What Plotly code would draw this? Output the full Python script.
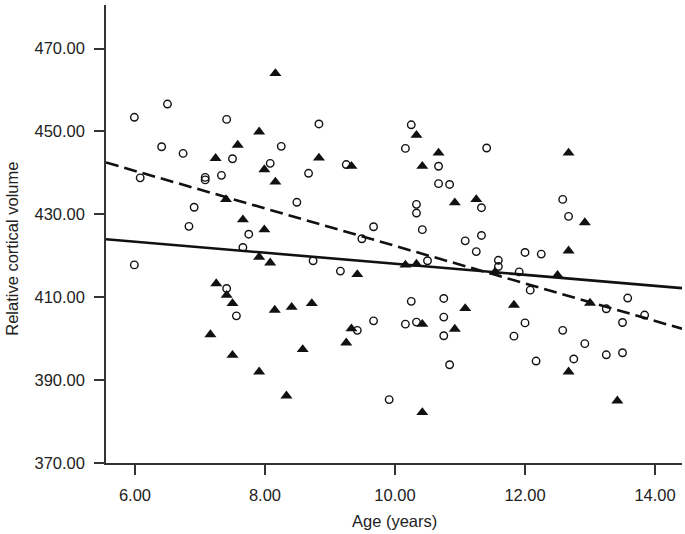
import plotly.graph_objects as go

# Open circles group
circle_age = [5.99, 6.50, 6.41, 6.74, 6.08, 7.08, 7.08, 7.33, 6.91, 6.83, 7.41, 7.50,
              5.99, 7.41, 7.56, 8.25, 8.08, 8.49, 7.75, 7.66, 8.83, 8.67, 9.25, 10.25,
              10.16, 10.67, 10.67, 10.84, 11.41, 10.33, 10.33, 10.42, 9.67, 9.49, 11.33,
              11.33, 11.08, 11.25, 8.74, 9.16, 10.50, 9.42, 9.67, 10.25, 10.16, 10.33,
              10.75, 10.75, 10.75, 10.84, 9.91, 12.58, 12.67, 12.00, 12.25, 11.59, 11.59,
              11.91, 12.08, 12.00, 11.83, 12.58, 12.17, 12.75, 12.92, 13.25, 13.58, 13.50,
              13.84, 13.25, 13.50]
circle_vol = [453.4, 456.6, 446.3, 444.7, 438.8, 438.9, 438.3, 439.4, 431.7, 427.1, 452.9, 443.4,
              417.8, 412.1, 405.5, 446.4, 442.3, 432.9, 425.2, 422.0, 451.8, 439.9, 442.0, 451.6,
              445.9, 441.6, 437.4, 437.2, 446.0, 432.4, 430.3, 426.3, 427.0, 424.1, 431.6,
              424.9, 423.6, 421.0, 418.8, 416.3, 418.8, 402.0, 404.3, 409.0, 403.5, 404.0,
              409.7, 405.2, 400.7, 393.7, 385.3, 433.6, 429.5, 420.8, 420.4, 418.9, 417.4,
              416.1, 411.7, 403.8, 400.6, 402.0, 394.6, 395.1, 398.8, 407.2, 409.8, 403.9,
              405.7, 396.1, 396.6]

# Filled triangles group
tri_age = [7.24, 7.58, 7.40, 8.16, 7.91, 7.99, 8.16, 7.66, 7.99, 7.91, 8.08, 7.25,
           7.41, 7.50, 7.16, 7.50, 8.15, 8.41, 8.72, 7.91, 8.33, 8.58, 8.83, 9.33,
           10.33, 10.67, 10.42, 10.92, 11.25, 9.42, 10.16, 10.33, 9.33, 9.25, 10.42,
           11.08, 10.92, 10.42, 12.67, 12.92, 12.67, 11.54, 12.50, 11.83, 12.67, 13.00, 13.42]
tri_vol = [443.5, 446.7, 433.6, 464.0, 449.9, 440.8, 437.8, 428.7, 426.3, 419.7, 418.3, 413.3,
           410.5, 408.5, 401.0, 396.0, 406.9, 407.6, 408.5, 392.0, 386.2, 397.4, 443.6, 441.6,
           449.1, 444.8, 441.6, 432.8, 433.6, 415.5, 417.8, 418.0, 402.4, 399.0, 403.5,
           407.3, 402.3, 382.2, 444.8, 428.0, 421.2, 416.1, 415.3, 408.1, 392.0, 408.6, 385.0]

# Regression lines (intercept, slope)
fit_x = [5.554, 14.415]
solid_fit = (431.40, -1.333)
dashed_fit = (467.63, -4.525)

x_ticks = [6, 8, 10, 12, 14]
y_ticks = [370, 390, 410, 430, 450, 470]
x_title = "Age (years)"
y_title = "Relative cortical volume"

fig = go.Figure()
fig.add_trace(go.Scatter(
    x=fit_x, y=[solid_fit[0] + solid_fit[1] * v for v in fit_x],
    mode="lines", line=dict(color="#111111", width=2.6), showlegend=False, hoverinfo="skip"))
fig.add_trace(go.Scatter(
    x=fit_x, y=[dashed_fit[0] + dashed_fit[1] * v for v in fit_x],
    mode="lines", line=dict(color="#111111", width=2.6, dash="13px,6px"),
    showlegend=False, hoverinfo="skip"))
fig.add_trace(go.Scatter(
    x=circle_age, y=circle_vol, mode="markers",
    marker=dict(symbol="circle-open", size=7.5, color="#111111", line=dict(width=1.4)),
    showlegend=False))
fig.add_trace(go.Scatter(
    x=tri_age, y=tri_vol, mode="markers",
    marker=dict(symbol="triangle-up", size=10.5, color="#111111", line=dict(width=0)),
    showlegend=False))

FONT = "Liberation Sans, Arial, sans-serif"
fig.update_layout(
    width=685, height=534,
    margin=dict(l=106, r=3, t=5, b=71),
    paper_bgcolor="white", plot_bgcolor="white",
    font=dict(family=FONT, size=16.5, color="#222222"),
    xaxis=dict(
        range=[5.554, 14.415], tickvals=x_ticks,
        ticktext=[f"{v:.2f}" for v in x_ticks],
        showgrid=False, zeroline=False, showline=True, linecolor="#333333", linewidth=1.5,
        ticks="outside", ticklen=10, tickwidth=1.5, tickcolor="#333333",
        ticklabelstandoff=6, automargin=False,
    ),
    yaxis=dict(
        range=[370, 480.5], tickvals=y_ticks,
        ticktext=[f"{v:.2f}" for v in y_ticks],
        showgrid=False, zeroline=False, showline=True, linecolor="#333333", linewidth=1.5,
        ticks="outside", ticklen=10, tickwidth=1.5, tickcolor="#333333",
        ticklabelstandoff=6, automargin=False,
    ),
    annotations=[
        dict(text=x_title, xref="paper", yref="paper", x=0.5, y=-0.1266,
             xanchor="center", yanchor="middle", showarrow=False,
             font=dict(family=FONT, size=16.5, color="#222222")),
        dict(text=y_title, xref="paper", yref="paper", x=-0.163, y=0.468,
             xanchor="center", yanchor="middle", showarrow=False, textangle=-90,
             font=dict(family=FONT, size=16.5, color="#222222")),
    ],
)
fig.write_html("out.html", config={"displayModeBar": False},
               post_script="document.body.style.margin='0px';")
